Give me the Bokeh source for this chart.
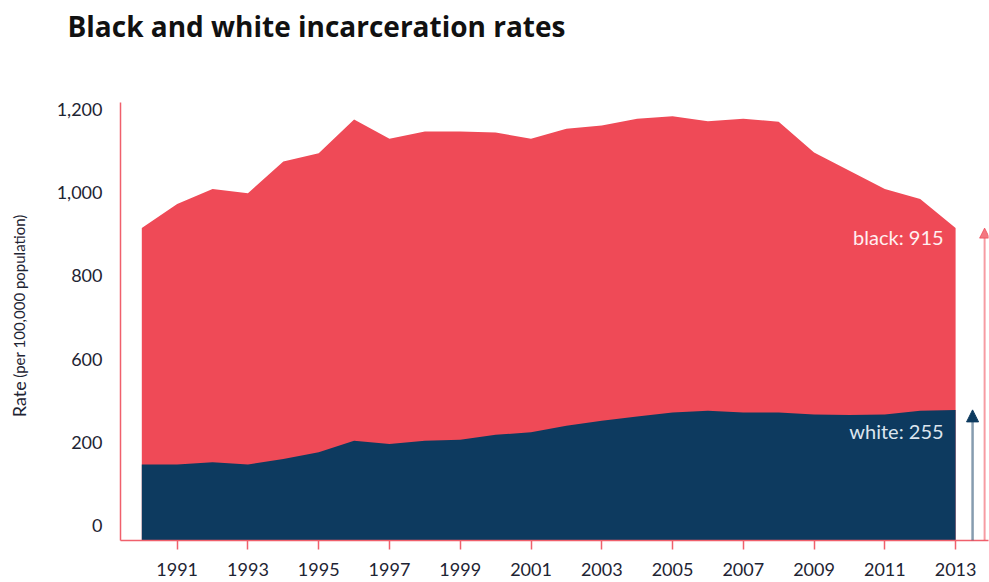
import math
from bokeh.plotting import figure
from bokeh.layouts import column, row
from bokeh.models import Range1d, FixedTicker, Label, Arrow, NormalHead
from bokeh.core.properties import value
from bokeh.embed import file_html
from bokeh.resources import INLINE

# ---------------- data ----------------
years = list(range(1990, 2014))
black = [915, 973, 1009, 999, 1075, 1095, 1176, 1130, 1147, 1147, 1145, 1130,
         1154, 1162, 1178, 1184, 1172, 1178, 1171, 1097, 1053, 1009, 985, 915]
white = [147, 147, 152, 147, 160, 176, 204, 196, 204, 206, 218, 224,
         240, 252, 262, 272, 276, 272, 272, 267, 266, 267, 276, 278]
y_tick_values = [0, 200, 600, 800, 1000, 1200]
y_tick_labels = ["0", "200", "600", "800", "1,000", "1,200"]
x_tick_years = list(range(1991, 2014, 2))
title_text = "Black and white incarceration rates"
black_label = "black: 915"
white_label = "white: 255"
y_title_main = "Rate"
y_title_sub = "(per 100,000 population)"

# The printed axis jumps straight from 200 to 600 (no 400 step):
GAP_LOW, GAP_HIGH = 400, 600


def to_axis(v):
    return v if v < GAP_LOW else v - (GAP_HIGH - GAP_LOW)


black_axis = [to_axis(v) for v in black]
white_axis = [to_axis(v) for v in white]
y_tick_pos = [to_axis(v) for v in y_tick_values]

# ---------------- style ----------------
RED = "#EF4A57"
NAVY = "#0D3A5F"
AXIS_RED = "#F0606C"
TEXT = "#1E2433"
FONT = "Lato"

W = 989
TITLE_H = 60
MAIN_H = 522
LEFT_W = 40

X0, X1 = 1989.398, 2013.93
Y0, Y1 = -36, 1017


def blank(width, height):
    f = figure(width=width, height=height, output_backend="svg",
               toolbar_location=None, x_range=Range1d(0, width),
               y_range=Range1d(height, 0), min_border=0)
    f.axis.visible = False
    f.grid.visible = False
    f.outline_line_color = None
    return f


# title strip
t = blank(W, TITLE_H)
t.text(x=[67], y=[25], text=[title_text], text_align="left",
       text_baseline="middle", text_font=value("Open Sans"), text_font_style="bold",
       text_font_size="28px", text_color="#111111")

# y-axis title strip
yl = blank(LEFT_W, MAIN_H)
yl.text(x=[18], y=[375], text=[y_title_main], angle=math.pi / 2,
        text_align="left", text_baseline="middle", text_font=value(FONT),
        text_font_size="18px", text_color=TEXT)
yl.text(x=[18], y=[328], text=[y_title_sub], angle=math.pi / 2,
        text_align="left", text_baseline="middle", text_font=value(FONT),
        text_font_size="15px", text_color=TEXT)

# main chart
p = figure(width=W - LEFT_W, height=MAIN_H, output_backend="svg",
           toolbar_location=None,
           x_range=Range1d(X0, X1), y_range=Range1d(Y0, Y1),
           min_border_left=80, min_border_right=1, min_border_top=42,
           min_border_bottom=42)
p.outline_line_color = None
p.grid.visible = False

p.varea(x=years, y1=Y0, y2=black_axis, fill_color=RED)
p.varea(x=years, y1=Y0, y2=white_axis, fill_color=NAVY)

# y axis
ya = p.yaxis[0]
ya.ticker = FixedTicker(ticks=y_tick_pos)
ya.major_label_overrides = {pos: lab for pos, lab in zip(y_tick_pos, y_tick_labels)}
ya.axis_line_color = AXIS_RED
ya.axis_line_width = 1.5
ya.major_tick_line_color = None
ya.minor_tick_line_color = None
ya.major_tick_out = 0
ya.major_tick_in = 0
ya.major_label_standoff = 18
ya.major_label_text_font = FONT
ya.major_label_text_font_size = "18px"
ya.major_label_text_color = TEXT

# x axis
xa = p.xaxis[0]
xa.ticker = FixedTicker(ticks=x_tick_years)
xa.axis_line_color = AXIS_RED
xa.axis_line_width = 1.5
xa.major_tick_line_color = AXIS_RED
xa.major_tick_line_width = 1.5
xa.major_tick_out = 9
xa.major_tick_in = 0
xa.minor_tick_line_color = None
xa.major_label_standoff = 13
xa.major_label_text_font = FONT
xa.major_label_text_font_size = "18px"
xa.major_label_text_color = TEXT

# arrows at the right edge
p.add_layout(Arrow(end=NormalHead(size=12, fill_color=NAVY, line_color=NAVY),
                   x_start=years[-1] + 0.48, y_start=Y0,
                   x_end=years[-1] + 0.48, y_end=white_axis[-1],
                   line_color=NAVY, line_alpha=0.5, line_width=2.5))
p.add_layout(Arrow(end=NormalHead(size=10, fill_color=RED, fill_alpha=0.75,
                                  line_color=RED, line_alpha=0.75),
                   x_start=years[-1] + 0.82, y_start=Y0,
                   x_end=years[-1] + 0.82, y_end=black_axis[-1],
                   line_color=RED, line_alpha=0.55, line_width=2))

# value labels
p.add_layout(Label(x=years[-1], y=black_axis[-1], x_offset=-12, y_offset=-9,
                   text=black_label, text_align="right", text_baseline="middle",
                   text_font=FONT, text_font_size="20px", text_color="#FFEFF0"))
p.add_layout(Label(x=years[-1], y=white_axis[-1], x_offset=-12, y_offset=-21,
                   text=white_label, text_align="right", text_baseline="middle",
                   text_font=FONT, text_font_size="20px", text_color="#DCE5EE"))

layout = column(t, row(yl, p, spacing=0), spacing=0)
open("out.html", "w").write(file_html(layout, INLINE))
